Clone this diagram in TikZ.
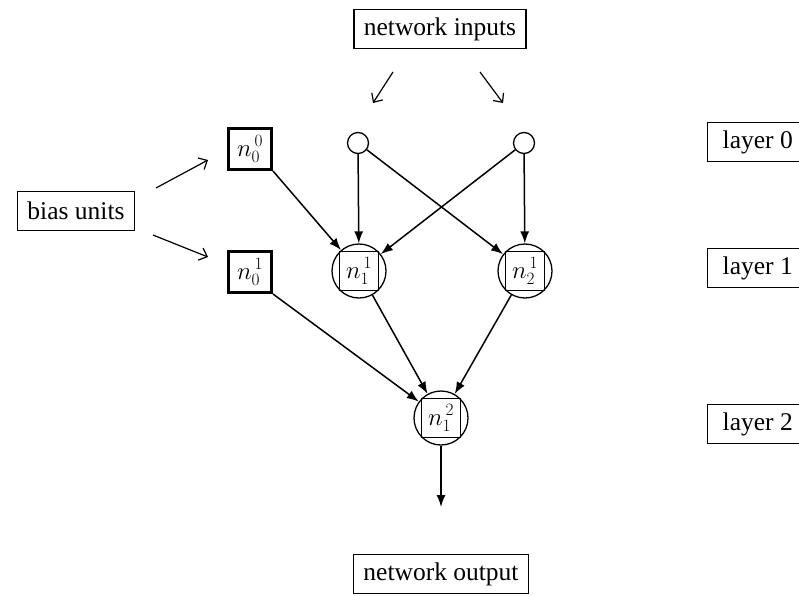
\documentclass[tikz,border=0pt]{standalone}
\usepackage[no-math]{fontspec}
\setmainfont{Liberation Serif}
\usetikzlibrary{arrows.meta}
\begin{document}
\begin{tikzpicture}[x=1pt,y=-1pt,
 box/.style={draw,line width=1.3pt,font=\fontsize{25.5}{30}\selectfont,minimum height=39pt,inner xsep=10pt},
 bias/.style={draw,line width=3pt,minimum width=43pt,minimum height=41pt,inner sep=0pt,font=\fontsize{27}{30}\selectfont},
 inp/.style={circle,draw,line width=1.3pt,minimum size=21pt,inner sep=0pt},
 unit/.style={circle,draw,line width=1.3pt,minimum size=54pt,inner sep=0pt,font=\fontsize{27}{30}\selectfont},
 wire/.style={line width=1.5pt,-{Latex[length=12pt,width=9pt]}},
 hint/.style={line width=1.2pt,-{Straight Barb[length=7pt,width=13pt]}}]
\useasboundingbox (0,0) rectangle (799,595);
\clip (0,0) rectangle (799,595);
\node[box] (in) at (440,29) {network inputs};
\node[box] (out) at (441,574) {network output};
\node[box] (bias) at (76,211) {bias units};
\foreach \i/\y in {0/142,1/268,2/424}
 \node[box,anchor=west,inner xsep=15pt] (l\i) at (707,\y) {layer \i};
\node[inp] (i1) at (358,143) {};
\node[inp] (i2) at (524,143) {};
\node[bias] (n00) at (250,149) {$n^{\,0}_{0}$};
\node[bias] (n01) at (250,272) {$n^{\,1}_{0}$};
\node[unit] (n11) at (359,271) {$n^{\,1}_{1}$};
\node[unit] (n12) at (525,271) {$n^{\,1}_{2}$};
\node[unit] (n21) at (441,418) {$n^{\,2}_{1}$};
\foreach \u in {n11,n12,n21}
 \draw[line width=1.3pt] (\u.north east) rectangle (\u.south west);
\coordinate (a1) at (393,72);
\coordinate (b1) at (373,103);
\coordinate (a2) at (480,72);
\coordinate (b2) at (503,103);
\coordinate (c1) at (156,188);
\coordinate (d1) at (208,160);
\coordinate (c2) at (153,235);
\coordinate (d2) at (208,257);
\coordinate (o) at (441,507);
\draw[hint] (a1) -- (b1);
\draw[hint] (a2) -- (b2);
\draw[hint] (c1) -- (d1);
\draw[hint] (c2) -- (d2);
\draw[wire] (n00.south east) -- (n11);
\draw[wire] (i1) -- (n11);
\draw[wire] (i1) -- (n12);
\draw[wire] (i2) -- (n11);
\draw[wire] (i2) -- (n12);
\draw[wire] (n01.south east) -- (n21);
\draw[wire] (n11) -- (n21);
\draw[wire] (n12) -- (n21);
\draw[wire] (n21) -- (o);
\end{tikzpicture}
\end{document}
